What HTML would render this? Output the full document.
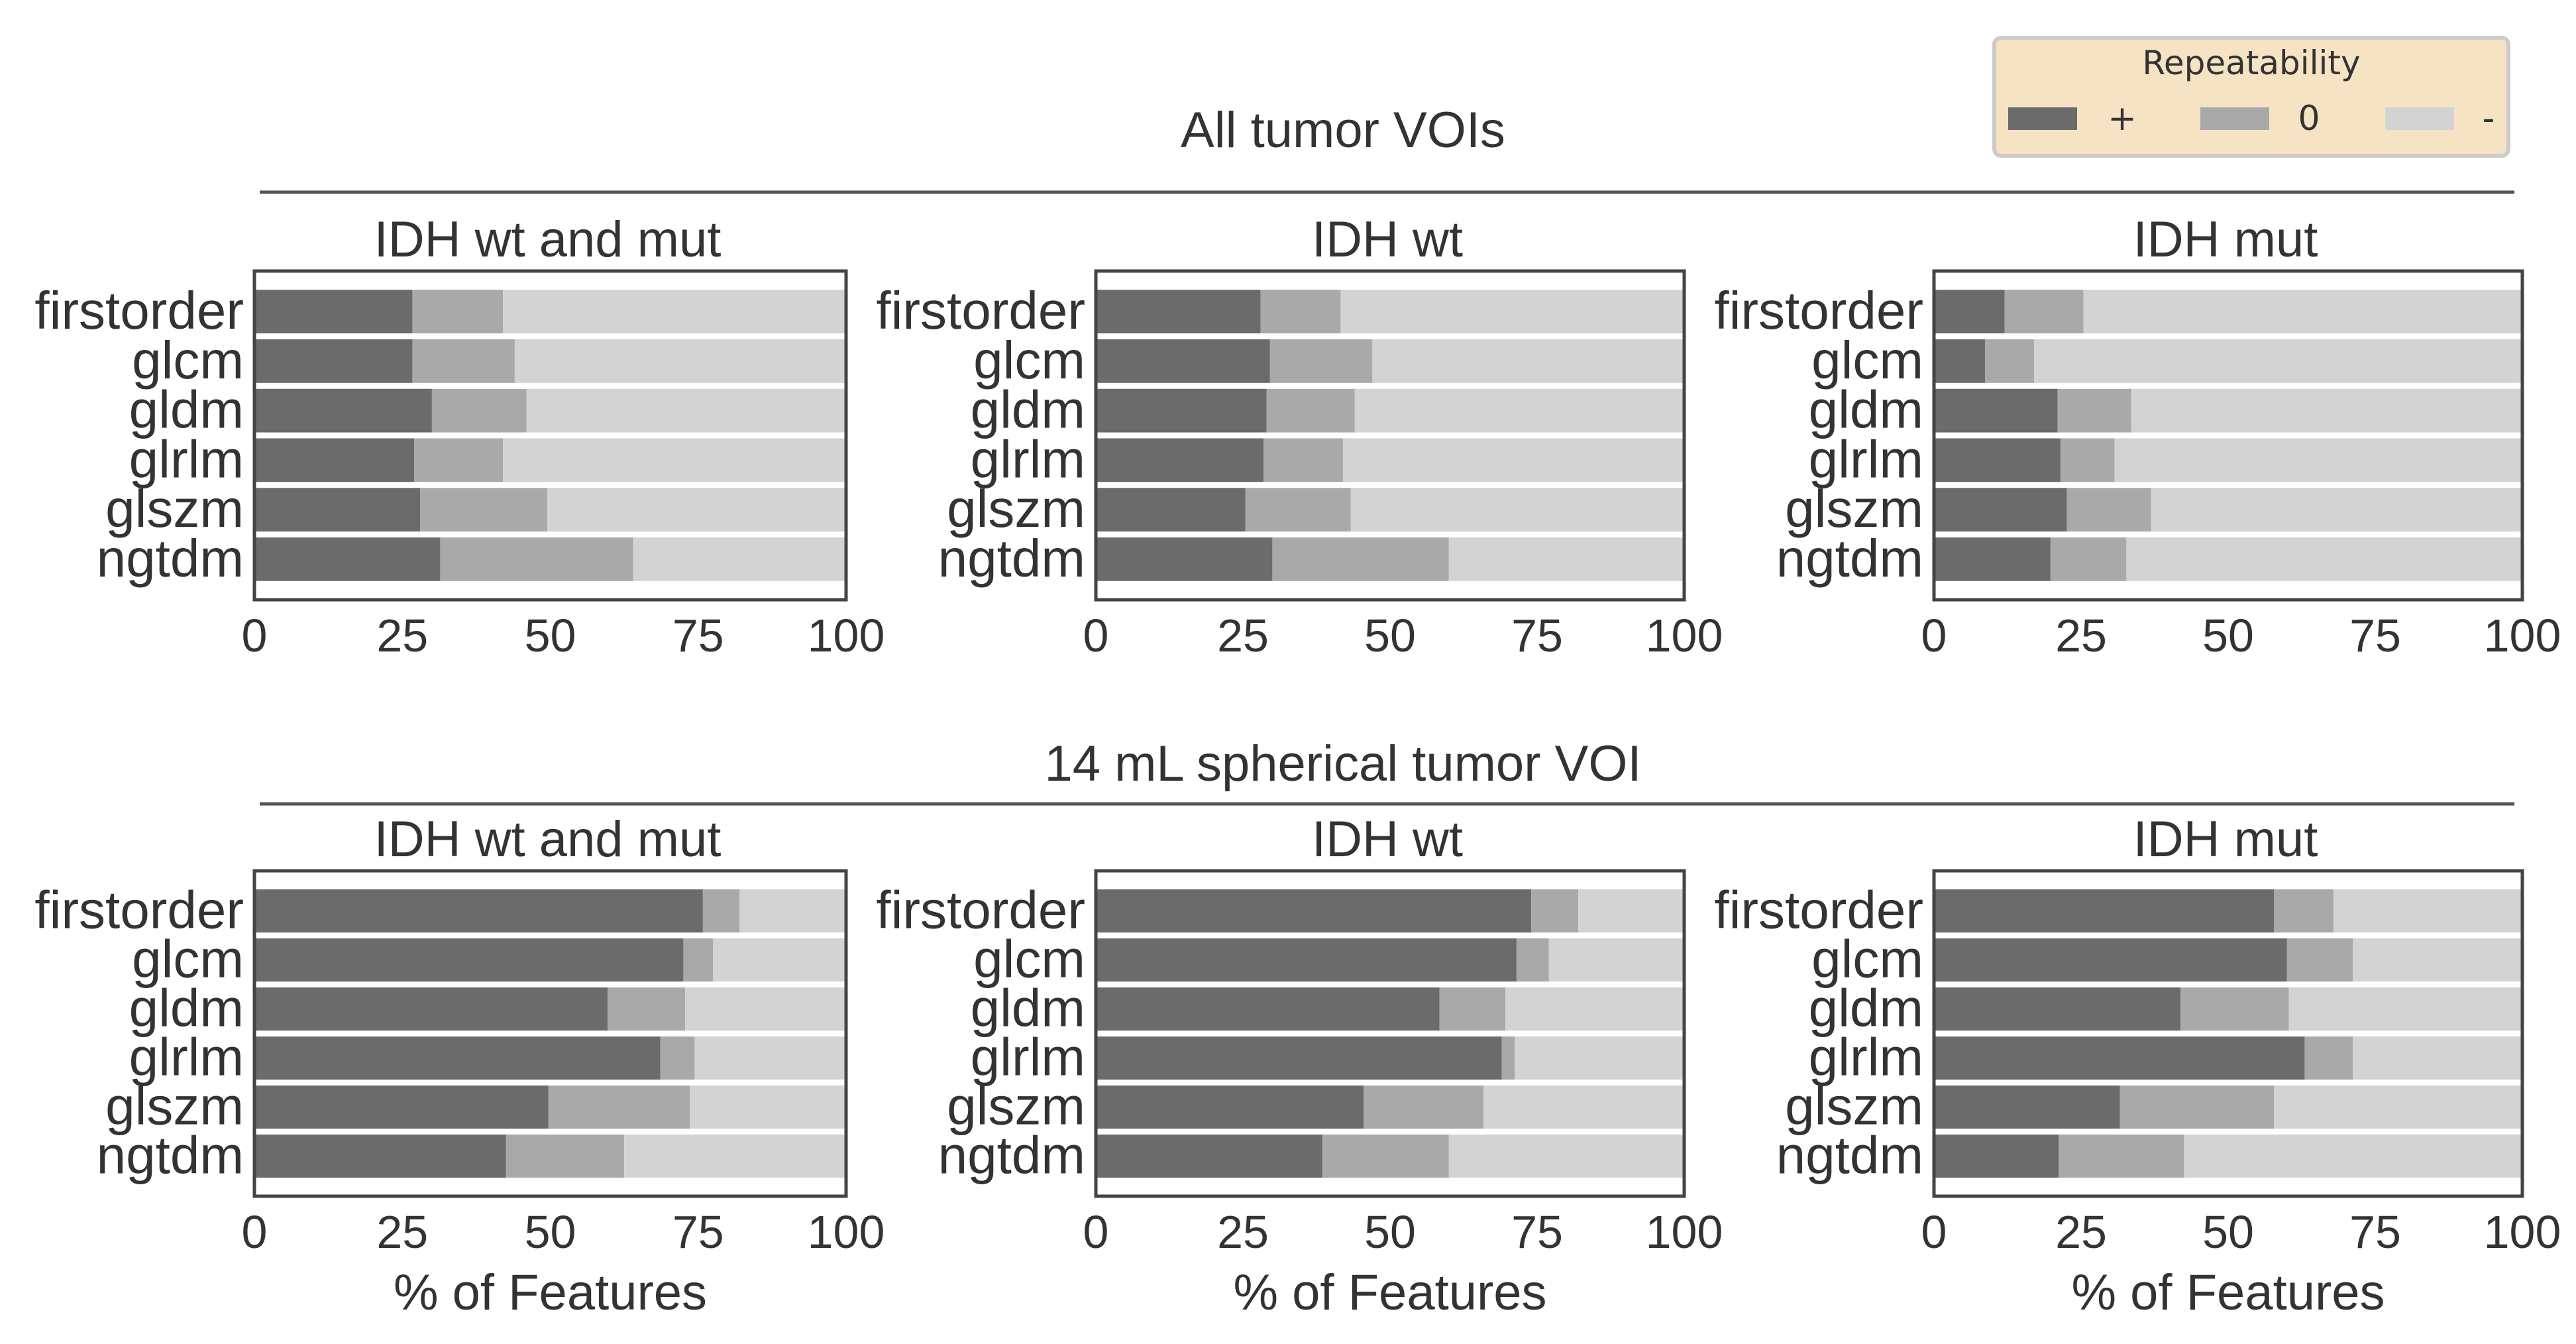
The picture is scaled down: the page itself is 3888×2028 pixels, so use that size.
<!DOCTYPE html>
<html><head><meta charset="utf-8"><style>
html,body{margin:0;padding:0;background:#fff;}
svg{display:block;font-family:"Liberation Sans",sans-serif;}
</style></head><body>
<svg id="fig" width="3888" height="2028" viewBox="0 0 3888 2028" xmlns="http://www.w3.org/2000/svg">
<rect x="0" y="0" width="3888" height="2028" fill="#fff"/>
<text x="2027" y="222" font-size="76" fill="#333" text-anchor="middle">All tumor VOIs</text>
<line x1="392" y1="290" x2="3795" y2="290" stroke="#555" stroke-width="5"/>
<text x="2027" y="1178" font-size="76" fill="#333" text-anchor="middle">14 mL spherical tumor VOI</text>
<line x1="392" y1="1213" x2="3795" y2="1213" stroke="#555" stroke-width="5"/>
<g>
<rect x="3010" y="57" width="776" height="178" rx="10" fill="#f5e3c4" stroke="#ccc" stroke-width="6"/>
<text x="3398" y="112" font-size="50" fill="#333" text-anchor="middle" font-family="DejaVu Sans, sans-serif">Repeatability</text>
<rect x="3031" y="162" width="104" height="34" fill="#6b6b6b"/>
<text x="3203" y="196" font-size="52" fill="#333" text-anchor="middle" font-family="DejaVu Sans, sans-serif">+</text>
<rect x="3321" y="162" width="104" height="34" fill="#a9a9a9"/>
<text x="3485" y="196" font-size="52" fill="#333" text-anchor="middle" font-family="DejaVu Sans, sans-serif">0</text>
<rect x="3600" y="162" width="104" height="34" fill="#d3d3d3"/>
<text x="3756" y="196" font-size="52" fill="#333" text-anchor="middle" font-family="DejaVu Sans, sans-serif">-</text>
</g>
</svg>
<script>
const categories = ["firstorder","glcm","gldm","glrlm","glszm","ngtdm"];
const xTicks = [0,25,50,75,100];
const panelTitles = ["IDH wt and mut","IDH wt","IDH mut","IDH wt and mut","IDH wt","IDH mut"];
// percent of features with + repeatability, per panel
const plusAllBoth = [26.7,26.7,30,27,28,31.4];
const plusAllWt = [28,29.6,29,28.5,25.4,30];
const plusAllMut = [12,8.7,21,21.5,22.6,19.8];
const plusSphBoth = [75.8,72.5,59.7,68.6,49.7,42.5];
const plusSphWt = [74,71.5,58.4,69,45.5,38.5];
const plusSphMut = [57.8,60,41.9,63,31.6,21.2];
// percent with 0 repeatability
const zeroAllBoth = [15.3,17.3,16,15,21.5,32.6];
const zeroAllWt = [13.6,17.4,15,13.5,17.9,30];
const zeroAllMut = [13.4,8.3,12.5,9.2,14.3,12.9];
const zeroSphBoth = [6.2,5,13.1,5.8,23.9,20];
const zeroSphWt = [8,5.5,11.2,2.2,20.4,21.5];
const zeroSphMut = [10.1,11.2,18.4,8.2,26.2,21.3];

const plusSets = [plusAllBoth,plusAllWt,plusAllMut,plusSphBoth,plusSphWt,plusSphMut];
const zeroSets = [zeroAllBoth,zeroAllWt,zeroAllMut,zeroSphBoth,zeroSphWt,zeroSphMut];
const NS = "http://www.w3.org/2000/svg";
const svg = document.getElementById("fig");
const colX = [[384,1277],[1654,2542],[2919,3807]];
const rowY = [[409,905],[1314,1805]];
function mk(tag, attrs, parent){const e=document.createElementNS(NS,tag);for(const k in attrs)e.setAttribute(k,attrs[k]);parent.appendChild(e);return e;}
for(let p=0;p<6;p++){
  const [x0,x1]=colX[p%3]; const [y0,y1]=rowY[Math.floor(p/3)];
  const xs=v=>x0+(x1-x0)*v/100;
  const H=y1-y0, pad=0.048*H, slot=(H-2*pad)/categories.length, bh=slot*0.88;
  const yc=i=>y0+pad+slot*(i+0.5);
  const g=mk("g",{},svg);
  
  
  const t=mk("text",{x:(x0+x1)/2-4,y:y0-22,"font-size":76,fill:"#333","text-anchor":"middle"},g);
  t.textContent=panelTitles[p];
  
  
  categories.forEach((c,i)=>{
    const plus=plusSets[p][i], zero=zeroSets[p][i], minus=100-plus-zero;
    const top=yc(i)-bh/2;
    const segs=[[0,plus,"#6b6b6b","plus"],[plus,zero,"#a9a9a9","zero"],[plus+zero,minus,"#d3d3d3","minus"]];
    segs.forEach(s=>{
      const r=mk("rect",{x:xs(s[0]),y:top,width:xs(s[0]+s[1])-xs(s[0]),height:bh,fill:s[2]},g);
      
      
    });
    const l=mk("text",{x:x0-16,y:yc(i)+26,"font-size":80,fill:"#333","text-anchor":"end"},g);
    l.textContent=c;
    
    
  });
  const f=mk("rect",{x:x0,y:y0,width:x1-x0,height:H,fill:"none",stroke:"#444","stroke-width":5},g);
  
  
  xTicks.forEach(v=>{
    const tl=mk("text",{x:xs(v),y:y1+78,"font-size":70,fill:"#333","text-anchor":"middle"},g);
    tl.textContent=v;
    
    
  });
  if(p>=3){
    const xt=mk("text",{x:(x0+x1)/2,y:1976,"font-size":76,fill:"#333","text-anchor":"middle"},g);
    xt.textContent="% of Features";
    
    
  }
}
</script>
</body></html>
